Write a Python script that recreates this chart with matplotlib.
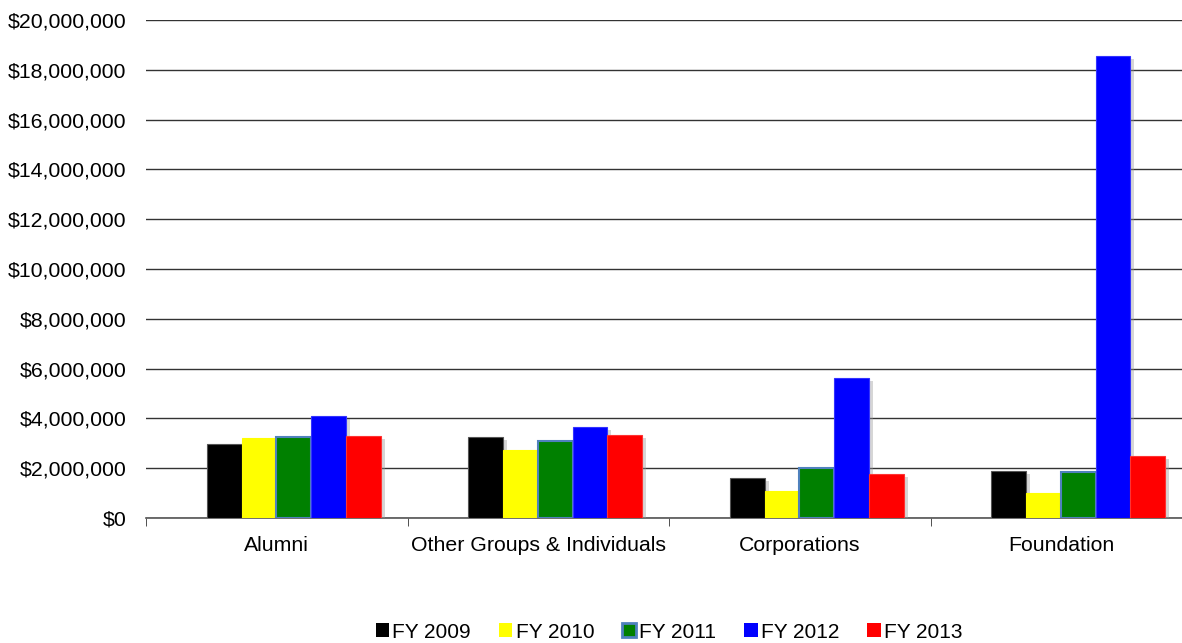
import matplotlib
matplotlib.use("Agg")
import matplotlib.pyplot as plt
import matplotlib.patheffects as pe
from matplotlib.patches import Patch
from matplotlib.ticker import FuncFormatter, FixedLocator

plt.rcParams['font.family'] = ['Liberation Sans', 'DejaVu Sans']

categories = ["Alumni", "Other Groups & Individuals", "Corporations", "Foundation"]
series = ["FY 2009", "FY 2010", "FY 2011", "FY 2012", "FY 2013"]
fy2009 = [2960000, 3250000, 1590000, 1890000]
fy2010 = [3230000, 2730000, 1100000, 1000000]
fy2011 = [3240000, 3090000, 2020000, 1830000]
fy2012 = [4100000, 3650000, 5610000, 18550000]
fy2013 = [3290000, 3330000, 1750000, 2490000]
values = [fy2009, fy2010, fy2011, fy2012, fy2013]

colors = ["#000000", "#FFFF00", "#008000", "#0000FF", "#FF0000"]
edges = ["#555555", "#FFFF00", "#4F81BD", "#3333FF", "#FF3333"]

fig = plt.figure(figsize=(11.82, 6.43), dpi=100)
ax = fig.add_axes([146/1182, 125/643, 1046/1182, 498/643])

w = 0.1327
for j, (vals, c, ec) in enumerate(zip(values, colors, edges)):
    xs = [i + 0.565 + (j - 2) * w for i in range(len(categories))]
    bars = ax.bar(xs, vals, width=w, color=c, edgecolor=ec,
                  linewidth=1.5 if j == 2 else 0.8, zorder=3)
    for b in bars:
        b.set_path_effects([pe.SimplePatchShadow(offset=(3, -2), shadow_rgbFace='#999999', alpha=0.4),
                            pe.Normal()])

ax.set_xlim(0, 4)
ax.set_ylim(0, 20000000)
ax.yaxis.set_major_locator(FixedLocator(range(0, 20000001, 2000000)))
ax.yaxis.set_major_formatter(FuncFormatter(lambda v, p: "${:,.0f}".format(v)))
ax.grid(axis='y', color='#333333', linewidth=1.0, zorder=0)
ax.set_axisbelow(True)

ax.set_xticks([i + 0.5 for i in range(4)])
ax.set_xticklabels(categories)
ax.set_xticks([0, 1, 2, 3, 4], minor=True)
ax.tick_params(axis='x', which='major', length=0, pad=13, labelsize=15.3)
ax.tick_params(axis='x', which='minor', length=6, color='#333333', direction='out')
ax.tick_params(axis='y', length=0, pad=14, labelsize=15.3)

for s in ['top', 'right', 'left']:
    ax.spines[s].set_visible(False)
ax.spines['bottom'].set_color('#555555')
ax.spines['bottom'].set_linewidth(1.2)

handles = [Patch(facecolor=c, edgecolor=(e if j == 2 else c), linewidth=(2 if j == 2 else 0))
           for j, (c, e) in enumerate(zip(colors, edges))]
fig.legend(handles, series, loc='center', bbox_to_anchor=(669/1182, 1 - 632/643), ncol=5,
           frameon=False, fontsize=15, handlelength=0.65, handleheight=0.65,
           handletextpad=0.15, columnspacing=1.35)

fig.savefig("out.png", dpi=100)
